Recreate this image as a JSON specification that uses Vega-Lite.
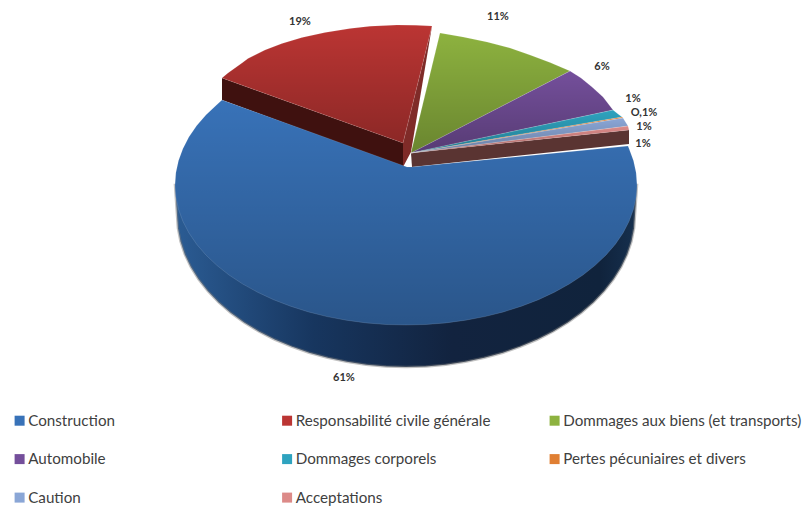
{
  "$schema": "https://vega.github.io/schema/vega-lite/v6.json",
  "width": 805,
  "height": 509,
  "autosize": "none",
  "padding": 0,
  "background": "white",
  "config": {"view": {"stroke": null}, "font": "Lato"},
  "projection": {"type": "identity", "scale": 1, "translate": [406, 185], "reflectY": true},
  "datasets": {
    "slices": [
      {"type": "Feature", "properties": {"category": "Construction", "share": 61, "label": "61%", "lx": -62, "ly": -193},
       "geometry": {"type": "Polygon", "coordinates": [[[1,18],[-184,85],[-189.2,80.3],[-200.1,70],[-209.4,59.2],[-217.1,47.9],[-223.1,36.3],[-227.5,24.3],[-230.1,12.2],[-231,0],[-230.1,-12.2],[-227.5,-24.3],[-223.1,-36.3],[-217.1,-47.9],[-209.4,-59.2],[-200.1,-70],[-189.2,-80.3],[-177,-90],[-163.3,-99],[-148.5,-107.2],[-132.5,-114.7],[-115.5,-121.2],[-97.6,-126.9],[-79,-131.6],[-59.8,-135.2],[-40.1,-137.9],[-20.1,-139.5],[0,-140],[20.1,-139.5],[40.1,-137.9],[59.8,-135.2],[79,-131.6],[97.6,-126.9],[115.5,-121.2],[132.5,-114.7],[148.5,-107.2],[163.3,-99],[177,-90],[189.2,-80.3],[200.1,-70],[209.4,-59.2],[217.1,-47.9],[223.1,-36.3],[227.5,-24.3],[230.1,-12.2],[231,0],[230.1,12.2],[227.5,24.3],[223.1,36.3],[222,39],[6,18],[1,18]]]}},
      {"type": "Feature", "properties": {"category": "Responsabilité civile générale", "share": 19, "label": "19%", "lx": -106, "ly": 163},
       "geometry": {"type": "Polygon", "coordinates": [[[-3,42],[-184,107],[-178,112],[-171,117],[-164,122],[-158,126.5],[-149,131],[-141,135],[-124,141.5],[-104,147.5],[-81,152.5],[-56,156.5],[-36,158.8],[-9,160],[10,159.8],[26,159],[-3,42]]]}},
      {"type": "Feature", "properties": {"category": "Dommages aux biens (et transports)", "share": 11, "label": "11%", "lx": 92, "ly": 168.5},
       "geometry": {"type": "Polygon", "coordinates": [[[5,32],[34,152],[57,148],[81,143],[104,137],[124,130],[144,122.5],[164,114],[5,32]]]}},
      {"type": "Feature", "properties": {"category": "Automobile", "share": 6, "label": "6%", "lx": 196, "ly": 118},
       "geometry": {"type": "Polygon", "coordinates": [[[5,32],[164,114],[175,107],[186,98],[197,88],[207,75],[5,32]]]}},
      {"type": "Feature", "properties": {"category": "Dommages corporels", "share": 1, "label": "1%", "lx": 227, "ly": 86},
       "geometry": {"type": "Polygon", "coordinates": [[[5,32],[207,75],[212,71],[216,68],[5,32]]]}},
      {"type": "Feature", "properties": {"category": "Pertes pécuniaires et divers", "share": 0.1, "label": "O,1%", "lx": 238, "ly": 72},
       "geometry": {"type": "Polygon", "coordinates": [[[5,32],[216,68],[217,67],[5,32]]]}},
      {"type": "Feature", "properties": {"category": "Caution", "share": 1, "label": "1%", "lx": 238, "ly": 58},
       "geometry": {"type": "Polygon", "coordinates": [[[5,32],[217,67],[222,59],[5,32]]]}},
      {"type": "Feature", "properties": {"category": "Acceptations", "share": 1, "label": "1%", "lx": 237, "ly": 41},
       "geometry": {"type": "Polygon", "coordinates": [[[5,32],[222,59],[223,55],[5,32]]]}}
    ],
    "walls": [
      {"type": "Feature", "properties": {"surface": "Construction rim"},
       "geometry": {"type": "Polygon", "coordinates": [[[-231,0],[-229,-30],[-228.1,-43.2],[-225.5,-56.4],[-221.2,-69.4],[-215.2,-82],[-207.5,-94.3],[-198.3,-106],[-187.6,-117.2],[-175.4,-127.7],[-161.9,-137.5],[-147.2,-146.4],[-131.4,-154.5],[-114.5,-161.6],[-96.9,-167.7],[-78.3,-172.8],[-59.3,-176.8],[-39.8,-179.7],[-19.9,-181.4],[0,-182],[19.9,-181.4],[39.8,-179.7],[59.3,-176.8],[78.3,-172.8],[96.9,-167.7],[114.5,-161.6],[131.4,-154.5],[147.2,-146.4],[161.9,-137.5],[175.4,-127.7],[187.6,-117.2],[198.3,-106],[207.5,-94.3],[215.2,-82],[221.2,-69.4],[225.5,-56.4],[228.1,-43.2],[229,-30],[231,0],[-231,0]]]}},
      {"type": "Feature", "properties": {"surface": "Responsabilité front cut"},
       "geometry": {"type": "Polygon", "coordinates": [[[-184,107],[-3,42],[-3,18],[-184,85],[-184,107]]]}},
      {"type": "Feature", "properties": {"surface": "Responsabilité rear cut"},
       "geometry": {"type": "Polygon", "coordinates": [[[26,159],[-3,42],[-3,18],[5,33],[26,159]]]}},
      {"type": "Feature", "properties": {"surface": "Acceptations cut"},
       "geometry": {"type": "Polygon", "coordinates": [[[5,32],[223,55],[223,41],[6,18],[5,32]]]}}
    ]
  },
  "resolve": {"scale": {"color": "independent"}},
  "layer": [
    {
      "data": {"name": "walls"},
      "transform": [{"filter": "datum.properties.surface === 'Construction rim'"}],
      "mark": {
        "type": "geoshape",
        "stroke": "#777777",
        "strokeWidth": 2.5,
        "strokeOpacity": 0.45,
        "fill": {"gradient": "linear", "x1": 0, "y1": 0, "x2": 1, "y2": 0, "stops": [
          {"offset": 0, "color": "#2b5c94"},
          {"offset": 0.3, "color": "#17365f"},
          {"offset": 0.6, "color": "#12233f"},
          {"offset": 0.92, "color": "#10233c"},
          {"offset": 1, "color": "#16304f"}
        ]}
      }
    },
    {
      "data": {"name": "walls"},
      "transform": [{"filter": "datum.properties.surface !== 'Construction rim'"}],
      "mark": {"type": "geoshape", "stroke": null},
      "encoding": {
        "color": {
          "field": "properties.surface",
          "type": "nominal",
          "legend": null,
          "scale": {
            "domain": ["Responsabilité front cut", "Responsabilité rear cut", "Acceptations cut"],
            "range": ["#3f110f", "#7f2b28", "#5a3432"]
          }
        }
      }
    },
    {
      "data": {"name": "slices"},
      "mark": {"type": "geoshape", "stroke": null},
      "encoding": {
        "color": {
          "field": "properties.category",
          "type": "nominal",
          "scale": {
            "domain": ["Construction", "Automobile", "Caution", "Responsabilité civile générale", "Dommages corporels", "Acceptations", "Dommages aux biens (et transports)", "Pertes pécuniaires et divers"],
            "range": ["#3872b8", "#744f9b", "#8aa6d6", "#bb3533", "#2ea3bf", "#dc8a88", "#8db23f", "#e07f33"]
          },
          "legend": {
            "title": null,
            "orient": "none",
            "legendX": 12,
            "legendY": 413,
            "columns": 3,
            "gridAlign": "all",
            "columnPadding": 12.5,
            "rowPadding": 22.5,
            "symbolType": "square",
            "symbolSize": 100,
            "symbolStrokeWidth": 0,
            "labelFont": "Lato",
            "labelFontSize": 15.2,
            "labelColor": "#404040",
            "labelLimit": 320,
            "labelOffset": 1
          }
        }
      }
    },
    {
      "data": {"name": "slices"},
      "mark": {
        "type": "geoshape",
        "stroke": "rgba(255,255,255,0.15)",
        "strokeWidth": 0.8,
        "fill": {"gradient": "linear", "x1": 0, "y1": 0, "x2": 0, "y2": 1, "stops": [
          {"offset": 0, "color": "rgba(0,0,0,0)"},
          {"offset": 1, "color": "rgba(0,0,0,0.25)"}
        ]}
      }
    },
    {
      "data": {"name": "slices"},
      "mark": {"type": "text", "font": "Lato", "fontSize": 11, "fontWeight": "bold", "color": "#333333", "align": "center", "baseline": "middle"},
      "encoding": {
        "longitude": {"field": "properties.lx", "type": "quantitative"},
        "latitude": {"field": "properties.ly", "type": "quantitative"},
        "text": {"field": "properties.label", "type": "nominal"}
      }
    }
  ]
}
